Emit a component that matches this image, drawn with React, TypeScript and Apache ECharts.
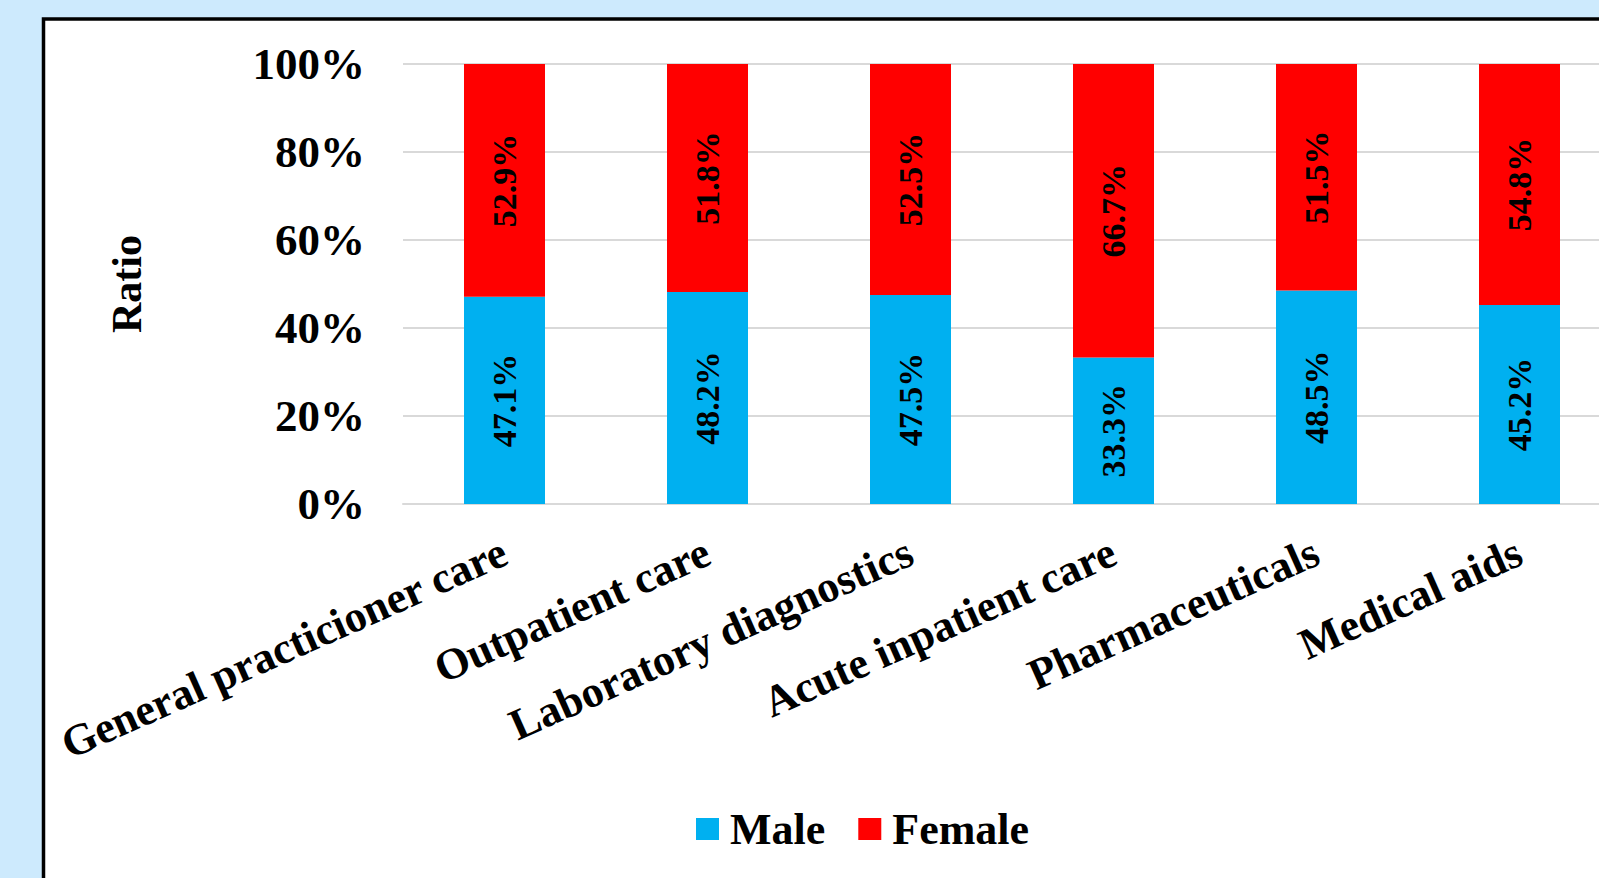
import React, { useEffect, useRef } from "react";
import * as echarts from "echarts";

const categories = [
  "General practicioner care",
  "Outpatient care",
  "Laboratory diagnostics",
  "Acute inpatient care",
  "Pharmaceuticals",
  "Medical aids",
];
const maleValues = [47.1, 48.2, 47.5, 33.3, 48.5, 45.2];
const femaleValues = [52.9, 51.8, 52.5, 66.7, 51.5, 54.8];
const yTicks = [0, 20, 40, 60, 80, 100];

const FONT = "'Liberation Serif', 'Times New Roman', serif";

export default function App() {
  const ref = useRef<HTMLDivElement>(null);
  useEffect(() => {
    document.body.style.margin = "0";
    if (!ref.current) return;
    const chart = echarts.init(ref.current, undefined, { renderer: "svg" });
    const labelStyle = {
      show: true,
      position: "inside",
      rotate: 90,
      color: "#000",
      fontFamily: FONT,
      fontWeight: "bold",
      fontSize: 34,
      formatter: (p: any) => p.value.toFixed(1) + "%",
    };
    chart.setOption({
      animation: false,
      backgroundColor: "#cdeafd",
      textStyle: { fontFamily: FONT },
      graphic: [
        {
          type: "rect",
          z: -10,
          shape: { x: 43.5, y: 19, width: 2000, height: 2000 },
          style: { fill: "#ffffff", stroke: "#000000", lineWidth: 3.5 },
          silent: true,
        },
        {
          type: "text",
          x: 127,
          y: 284,
          rotation: Math.PI / 2,
          style: {
            text: "Ratio",
            fontFamily: FONT,
            fontWeight: "bold",
            fontSize: 42,
            fill: "#000",
            align: "center",
            verticalAlign: "middle",
          },
        },
      ],
      legend: {
        left: 696,
        top: 807,
        padding: 0,
        itemWidth: 23,
        itemHeight: 22,
        itemGap: 33,
        icon: "rect",
        data: ["Male", "Female"],
        textStyle: {
          fontFamily: FONT,
          fontWeight: "bold",
          fontSize: 44,
          color: "#000",
          padding: [0, 0, 0, 6],
        },
      },
      grid: {
        left: 403,
        top: 64,
        width: 1218,
        height: 440,
        containLabel: false,
      },
      xAxis: {
        type: "category",
        data: categories,
        axisLine: { lineStyle: { color: "#d9d9d9", width: 2 } },
        axisTick: { show: false },
        axisLabel: {
          rotate: 24,
          interval: 0,
          margin: 46,
          color: "#000",
          fontFamily: FONT,
          fontWeight: "bold",
          fontSize: 44,
        },
      },
      yAxis: {
        type: "value",
        min: 0,
        max: 100,
        interval: 20,
        axisLine: { show: false },
        axisTick: { show: false },
        splitLine: { lineStyle: { color: "#d9d9d9", width: 2 } },
        axisLabel: {
          margin: 38,
          color: "#000",
          fontFamily: FONT,
          fontWeight: "bold",
          fontSize: 45,
          formatter: (v: number) => (yTicks.includes(v) ? v + "%" : ""),
        },
      },
      series: [
        {
          name: "Male",
          type: "bar",
          stack: "total",
          barWidth: 81,
          data: maleValues,
          itemStyle: { color: "#00b0f0" },
          label: labelStyle,
        },
        {
          name: "Female",
          type: "bar",
          stack: "total",
          barWidth: 81,
          data: femaleValues,
          itemStyle: { color: "#ff0000" },
          label: labelStyle,
        },
      ],
    });
    return () => chart.dispose();
  }, []);
  return (
    <div style={{ width: 1599, height: 878, overflow: "hidden", position: "relative" }}>
      <div ref={ref} style={{ width: 1700, height: 878 }} />
    </div>
  );
}
